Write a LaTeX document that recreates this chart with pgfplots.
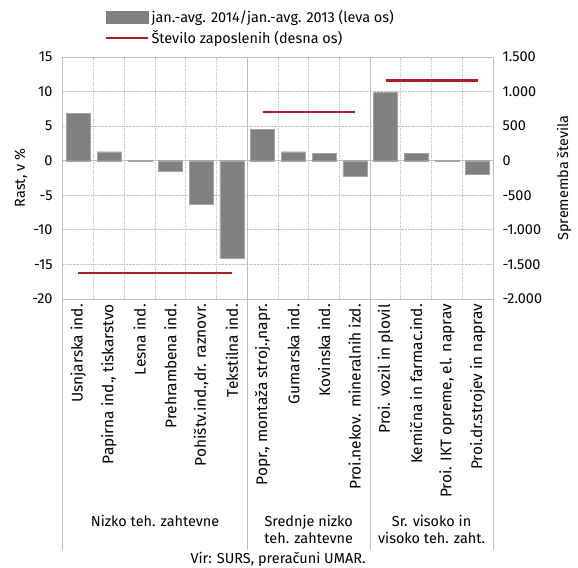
\documentclass[border=0pt]{standalone}
\usepackage{fontspec}
\setmainfont{Fira Sans}
\usepackage{pgfplots}
\pgfplotsset{compat=1.18}

\definecolor{barfill}{RGB}{128,128,128}
\definecolor{baredge}{RGB}{165,165,165}
\definecolor{linered}{RGB}{178,30,38}
\definecolor{framegray}{RGB}{190,190,190}
\definecolor{gridgray}{RGB}{195,195,195}

\newcommand{\chfont}{\fontsize{14.5}{17}\selectfont}

\begin{document}
\begin{tikzpicture}[font=\chfont]
\useasboundingbox (-63bp,-269bp) rectangle (515bp,299bp);
\begin{axis}[
  at={(0,0)}, anchor=south west,
  scale only axis, width=430bp, height=242bp,
  clip=false,
  xmin=-0.5, xmax=13.5, ymin=-20, ymax=15,
  ytick={-20,-15,...,15}, ytick pos=left,
  yticklabel style={xshift=-7bp},
  xtick={0,...,13},
  xticklabels={{Usnjarska ind.},{Papirna ind., tiskarstvo},{Lesna ind.},{Prehrambena ind.},{Pohištv.ind.,dr. raznovr.},{Tekstilna ind.},{Popr., montaža stroj.,napr.},{Gumarska ind.},{Kovinska ind.},{Proi.nekov. mineralnih izd.},{Proi. vozil in plovil},{Kemična in farmac.ind.},{Proi. IKT opreme, el. naprav},{Proi.dr.strojev in naprav}},
  x tick label style={rotate=90, anchor=east, inner sep=5bp, font=\fontsize{15.5}{18}\selectfont},
  minor xtick={0.5,1.5,...,12.5},
  xminorgrids=true, ymajorgrids=true,
  grid style={densely dotted, gridgray, line width=0.8bp},
  minor grid style={densely dotted, gridgray, line width=0.8bp},
  axis line style={framegray, line width=1bp},
  major tick length=0pt, minor tick length=0pt,
  extra y ticks={0}, extra y tick labels={},
  extra y tick style={grid=major, grid style={solid, framegray, line width=1.2bp}},
  /pgf/number format/assume math mode=true,
  ylabel={Rast, v \%},
  ylabel style={at={(axis description cs:-0.098,0.5)}, anchor=center},
  legend style={at={(0.098,1.195)}, anchor=north west, draw=none, fill=none,
    inner sep=0pt, row sep=7bp, nodes={inner xsep=2bp, inner ysep=0pt}},
  legend cell align=left,
]
\addplot[ybar, bar width=0.78, fill=barfill, draw=baredge,
  legend image code/.code={\fill[barfill] (0bp,-6bp) rectangle (42bp,6bp);}]
  coordinates {(0,6.85)(1,1.3)(2,0.02)(3,-1.55)(4,-6.3)(5,-14.1)(6,4.55)(7,1.3)(8,1.1)(9,-2.2)(10,9.95)(11,1.1)(12,0.02)(13,-1.95)};
\addlegendentry{jan.-avg. 2014/jan.-avg. 2013 (leva os)}
\addlegendimage{legend image code/.code={\draw[linered, line width=2.2bp] (0bp,0bp) -- (42bp,0bp);}}
\addlegendentry{Število zaposlenih (desna os)}

\draw[framegray, line width=1bp] (axis cs:-0.5,15) -- ([yshift=-251bp]axis cs:-0.5,-20);
\draw[framegray, line width=1bp] (axis cs:5.5,15) -- ([yshift=-251bp]axis cs:5.5,-20);
\draw[framegray, line width=1bp] (axis cs:9.5,15) -- ([yshift=-251bp]axis cs:9.5,-20);
\draw[framegray, line width=1bp] (axis cs:13.5,15) -- ([yshift=-251bp]axis cs:13.5,-20);

\node[align=center, anchor=north] at ([yshift=-213bp]axis cs:2.5,-20) {Nizko teh. zahtevne};
\node[align=center, anchor=north] at ([yshift=-213bp]axis cs:7.5,-20) {Srednje nizko\\teh. zahtevne};
\node[align=center, anchor=north] at ([yshift=-213bp]axis cs:11.5,-20) {Sr. visoko in\\visoko teh. zaht.};
\node[anchor=north] at ([yshift=-250bp]axis cs:6.5,-20) {Vir: SURS, preračuni UMAR.};
\end{axis}

\begin{axis}[
  at={(0,0)}, anchor=south west,
  scale only axis, width=430bp, height=242bp,
  xmin=-0.5, xmax=13.5, ymin=-2000, ymax=1500,
  axis x line=none, axis y line*=right,
  axis line style={draw=none},
  ytick={-2000,-1500,...,1500},
  major tick length=0pt,
  /pgf/number format/assume math mode=true,
  /pgf/number format/1000 sep={.},
  yticklabel style={/pgf/number format/fixed, xshift=6bp},
  ylabel={Sprememba števila},
  ylabel style={at={(axis description cs:1.165,0.5)}, anchor=center},
]
\addplot[linered, line width=2.2bp, forget plot] coordinates {(0,-1620)(5,-1620)};
\addplot[linered, line width=2.2bp, forget plot] coordinates {(6,710)(9,710)};
\addplot[linered, line width=2.2bp, forget plot] coordinates {(10,1160)(13,1160)};
\end{axis}
\end{tikzpicture}
\end{document}
